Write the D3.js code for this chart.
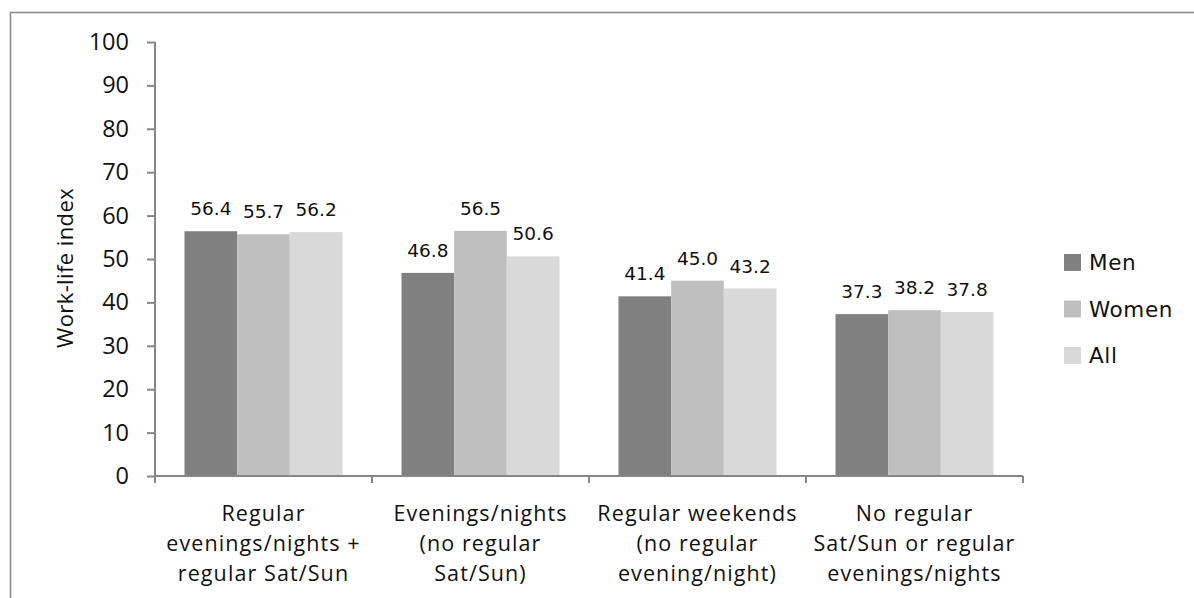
<!DOCTYPE html>
<html>
<head>
<meta charset="utf-8">
<script src="https://cdn.jsdelivr.net/npm/d3@7"></script>
<style>
  html, body { margin: 0; padding: 0; background: #fff; }
  svg { display: block; }
</style>
</head>
<body>
<svg id="chart" width="1194" height="598"></svg>
<script>
// Work-life index by schedule type and sex
const categories = [
  ["Regular", "evenings/nights +", "regular Sat/Sun"],
  ["Evenings/nights", "(no regular", "Sat/Sun)"],
  ["Regular weekends", "(no regular", "evening/night)"],
  ["No regular", "Sat/Sun or regular", "evenings/nights"]
];
const seriesNames = ["Men", "Women", "All"];
const men   = [56.4, 46.8, 41.4, 37.3];
const women = [55.7, 56.5, 45.0, 38.2];
const all   = [56.2, 50.6, 43.2, 37.8];
const yTicks = [0, 10, 20, 30, 40, 50, 60, 70, 80, 90, 100];
const yTitle = "Work-life index";

const seriesValues = [men, women, all];
const colors = ["#808080", "#bfbfbf", "#d9d9d9"];

const svg = d3.select("#chart");
const W = 1194, H = 598;
const plot = { left: 155, top: 42, right: 1023, bottom: 476 };

// outer chart frame
svg.append("rect")
  .attr("x", 10.5).attr("y", 12.5)
  .attr("width", W + 20).attr("height", H + 20)
  .attr("fill", "#fff")
  .attr("stroke", "#8c8c8c").attr("stroke-width", 1.6);

const catIdx = categories.map((d, i) => i);
const x0 = d3.scaleBand().domain(catIdx).range([plot.left, plot.right]).padding(0);
const x1 = d3.scaleBand().domain(seriesNames).range([0, x0.bandwidth()])
  .paddingInner(0).paddingOuter(0.56);
const y = d3.scaleLinear().domain([0, 100]).range([plot.bottom, plot.top]);

const axisColor = "#868686";
const labelFont = "'Open Sans', 'DejaVu Sans', sans-serif";

// bars
const groups = svg.append("g").selectAll("g")
  .data(catIdx).join("g")
  .attr("transform", i => `translate(${x0(i)},0)`);

groups.selectAll("rect")
  .data(i => seriesNames.map((s, k) => ({ s, k, v: seriesValues[k][i] })))
  .join("rect")
  .attr("x", d => x1(d.s))
  .attr("y", d => y(d.v))
  .attr("width", x1.bandwidth())
  .attr("height", d => y(0) - y(d.v))
  .attr("fill", d => colors[d.k]);

// value labels
groups.selectAll("text.val")
  .data(i => seriesNames.map((s, k) => ({ s, k, v: seriesValues[k][i] })))
  .join("text")
  .attr("class", "val")
  .attr("x", d => x1(d.s) + x1.bandwidth() / 2)
  .attr("y", d => y(d.v) - 16)
  .attr("text-anchor", "middle")
  .attr("font-family", "'DejaVu Sans', sans-serif")
  .attr("font-size", 18.5)
  .attr("fill", "#111")
  .text(d => d.v.toFixed(1));

// y axis
const yAxis = d3.axisLeft(y).tickValues(yTicks).tickSize(8).tickPadding(18);
const gy = svg.append("g").attr("transform", `translate(${plot.left},0)`).call(yAxis);
gy.select(".domain").attr("stroke", axisColor).attr("stroke-width", 2)
  .attr("d", `M0,${plot.top}V${plot.bottom}`);
gy.selectAll(".tick line").attr("stroke", axisColor).attr("stroke-width", 2);
gy.selectAll(".tick text")
  .attr("font-family", labelFont).attr("font-size", 23.5).attr("fill", "#111");

// x axis (ticks on category boundaries)
const boundaries = d3.range(categories.length + 1).map(i => plot.left + i * x0.step());
const gx = svg.append("g");
gx.append("line")
  .attr("x1", plot.left).attr("x2", plot.right)
  .attr("y1", plot.bottom).attr("y2", plot.bottom)
  .attr("stroke", axisColor).attr("stroke-width", 2);
gx.selectAll("line.tick").data(boundaries).join("line")
  .attr("class", "tick")
  .attr("x1", d => d).attr("x2", d => d)
  .attr("y1", plot.bottom).attr("y2", plot.bottom + 7)
  .attr("stroke", axisColor).attr("stroke-width", 2);

// category labels
const catText = svg.append("g").selectAll("text")
  .data(catIdx).join("text")
  .attr("x", i => x0(i) + x0.bandwidth() / 2)
  .attr("y", 521)
  .attr("text-anchor", "middle")
  .attr("font-family", labelFont)
  .attr("font-size", 21.5)
  .attr("letter-spacing", 1.1)
  .attr("fill", "#111");
catText.selectAll("tspan")
  .data(i => categories[i])
  .join("tspan")
  .attr("x", function () { return d3.select(this.parentNode).attr("x"); })
  .attr("dy", (d, j) => j === 0 ? 0 : 30)
  .text(d => d);

// y axis title
svg.append("text")
  .attr("transform", `translate(73,${(plot.top + plot.bottom) / 2 + 9}) rotate(-90)`)
  .attr("text-anchor", "middle")
  .attr("font-family", labelFont)
  .attr("font-size", 22)
  .attr("letter-spacing", 0.4)
  .attr("fill", "#111")
  .text(yTitle);

// legend
const legend = svg.append("g").attr("transform", "translate(1064,254)");
const li = legend.selectAll("g").data(seriesNames).join("g")
  .attr("transform", (d, i) => `translate(0,${i * 46.5})`);
li.append("rect").attr("width", 17).attr("height", 17)
  .attr("fill", (d, i) => colors[i]);
li.append("text")
  .attr("x", 25).attr("y", 16)
  .attr("font-family", "'DejaVu Sans', sans-serif")
  .attr("font-size", 21.5)
  .attr("letter-spacing", 0.6)
  .attr("fill", "#111")
  .text(d => d);
</script>
</body>
</html>
